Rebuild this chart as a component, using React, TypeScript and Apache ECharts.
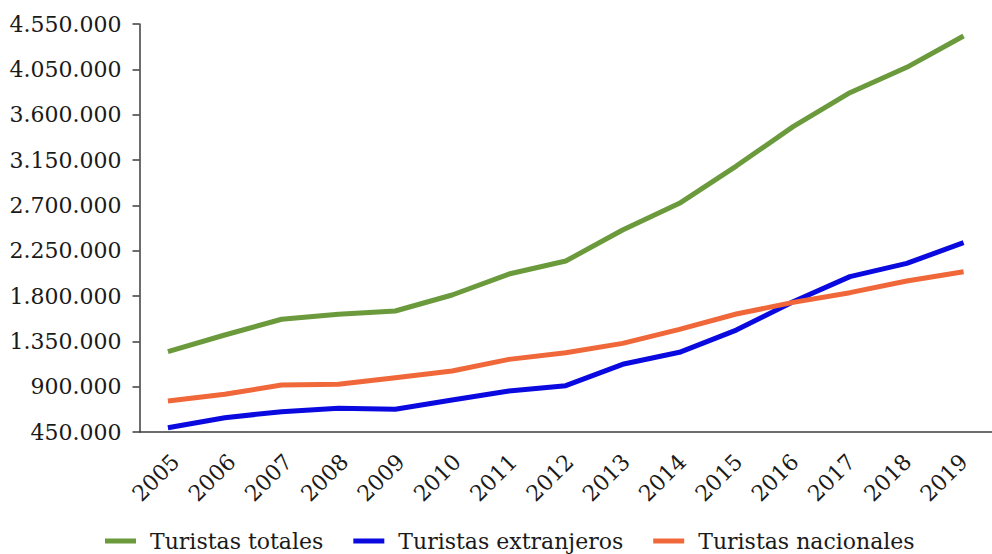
import React, { useEffect, useRef } from "react";
import * as echarts from "echarts";

const years = ["2005", "2006", "2007", "2008", "2009", "2010", "2011", "2012", "2013", "2014", "2015", "2016", "2017", "2018", "2019"];
const totales = [1247000, 1413000, 1569000, 1618000, 1651000, 1810000, 2018000, 2147000, 2455000, 2720000, 3090000, 3481000, 3818000, 4070000, 4381000];
const extranjeros = [493000, 592000, 652000, 685000, 675000, 768000, 857000, 910000, 1122000, 1241000, 1462000, 1743000, 1992000, 2124000, 2329000];
const nacionales = [758000, 824000, 916000, 923000, 989000, 1055000, 1171000, 1237000, 1330000, 1469000, 1621000, 1737000, 1833000, 1949000, 2041000];
const yTickLabels = ["450.000", "900.000", "1.350.000", "1.800.000", "2.250.000", "2.700.000", "3.150.000", "3.600.000", "4.050.000", "4.550.000"];
const seriesNames = ["Turistas totales", "Turistas extranjeros", "Turistas nacionales"];

const FONT = "DejaVu Serif";
const AXIS_COLOR = "#3c3c3c";
const TEXT_COLOR = "#1a1a1a";

export default function App() {
  const ref = useRef<HTMLDivElement>(null);
  useEffect(() => {
    if (!ref.current) return;
    const chart = echarts.init(ref.current, undefined, { renderer: "svg" });
    const yMin = 450000;
    const yStep = 450000;
    const mk = (name: string, data: number[], color: string) => ({
      name,
      type: "line",
      data,
      symbol: "none",
      xAxisIndex: 0,
      yAxisIndex: 0,
      lineStyle: { color, width: 5 },
      itemStyle: { color },
      z: 3,
    });
    chart.setOption({
      animation: false,
      backgroundColor: "#ffffff",
      textStyle: { fontFamily: FONT },
      grid: [
        { left: 139.5, top: 24, width: 860, bottom: 122, containLabel: false },
        { left: 147.5, top: 24, width: 860, bottom: 122, containLabel: false },
      ],
      legend: {
        left: 100,
        top: 525,
        icon: "rect",
        itemWidth: 31,
        itemHeight: 5,
        itemGap: 30,
        data: seriesNames,
        textStyle: { fontFamily: FONT, fontSize: 22, color: TEXT_COLOR, padding: [0, 0, 0, 9] },
      },
      xAxis: [
        {
          type: "category",
          gridIndex: 0,
          data: years,
          boundaryGap: true,
          axisLine: { lineStyle: { color: AXIS_COLOR, width: 1.5 } },
          axisTick: { alignWithLabel: true, length: 8, lineStyle: { color: AXIS_COLOR, width: 1.5 } },
          axisLabel: { show: false },
          splitLine: { show: false },
        },
        {
          type: "category",
          gridIndex: 1,
          data: years,
          boundaryGap: true,
          axisLine: { show: false },
          axisTick: { show: false },
          axisLabel: {
            rotate: 45,
            interval: 0,
            margin: 26,
            fontFamily: FONT,
            fontSize: 22,
            color: TEXT_COLOR,
          },
          splitLine: { show: false },
        },
      ],
      yAxis: [
        {
          type: "value",
          gridIndex: 0,
          min: yMin,
          max: 4500000,
          interval: yStep,
          axisLine: { show: true, lineStyle: { color: AXIS_COLOR, width: 1.5 } },
          axisTick: { show: true, length: 7, lineStyle: { color: AXIS_COLOR, width: 1.5 } },
          axisLabel: {
            margin: 18,
            fontFamily: FONT,
            fontSize: 22,
            color: TEXT_COLOR,
            formatter: (v: number) => {
              const i = Math.round((v - yMin) / yStep);
              return yTickLabels[i] ?? "";
            },
          },
          splitLine: { show: false },
        },
        {
          type: "value",
          gridIndex: 1,
          min: yMin,
          max: 4500000,
          interval: yStep,
          show: false,
        },
      ],
      series: [
        mk(seriesNames[0], totales, "#6b9a3c"),
        mk(seriesNames[1], extranjeros, "#0a0ae0"),
        mk(seriesNames[2], nacionales, "#f0683a"),
      ],
    });
    return () => chart.dispose();
  }, []);
  return <div ref={ref} style={{ position: "fixed", left: 0, top: 0, width: 992, height: 554 }} />;
}
